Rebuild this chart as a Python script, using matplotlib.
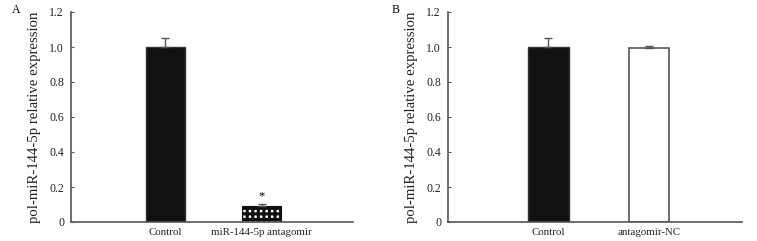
import numpy as np
import matplotlib.pyplot as plt

plt.rcParams['font.family'] = ['Liberation Serif', 'DejaVu Serif']
plt.rcParams['hatch.linewidth'] = 2.2

# Panel A
grupos_a = ['Control', 'miR-144-5p antagomir']
valores_a = [1.0, 0.09]
errores_a = [0.05, 0.015]

# Panel B
grupos_b = ['Control', 'antagomir-NC']
valores_b = [1.0, 0.995]
errores_b = [0.05, 0.01]

ylabel = 'pol-miR-144-5p relative expression'
yticks = [0, 0.2, 0.4, 0.6, 0.8, 1.0, 1.2]
yticklabels = ['0', '0.2', '0.4', '0.6', '0.8', '1.0', '1.2']

fig = plt.figure(figsize=(7.57, 2.41), dpi=100)
fig.patch.set_facecolor('white')
ax_a = fig.add_axes([71/757, 1 - 222/241, 282/757, 210/241])
ax_b = fig.add_axes([448/757, 1 - 222/241, 294/757, 210/241])

spine_col = '#555555'


def estilo(ax, xlim):
    ax.set_ylim(0, 1.2)
    ax.set_xlim(*xlim)
    ax.set_yticks(yticks)
    ax.set_yticklabels(yticklabels, fontsize=8.5, color='#222222')
    ax.set_ylabel(ylabel, fontsize=10.6, labelpad=6, color='#222222')
    for s in ['top', 'right']:
        ax.spines[s].set_visible(False)
    for s in ['left', 'bottom']:
        ax.spines[s].set_color(spine_col)
        ax.spines[s].set_linewidth(1.2)
    ax.tick_params(axis='y', direction='in', length=2, color=spine_col, pad=5)
    ax.tick_params(axis='x', length=0, labelsize=7.8, pad=4, labelcolor='#222222')


x = np.array([1, 2])

# --- A
ax_a.bar(x[0], valores_a[0], 0.4, color='#111111', edgecolor='#333333', linewidth=1)
ax_a.bar(x[1], valores_a[1], 0.4, color='white', edgecolor='#111111', hatch='+++', linewidth=0.8)
ax_a.errorbar(x, valores_a, yerr=[[0, 0], errores_a], fmt='none', ecolor='#555555',
              elinewidth=1, capsize=3, capthick=1)
ax_a.text(x[1], valores_a[1] + errores_a[1] + 0.005, '*', ha='center', va='bottom', fontsize=9)
ax_a.set_xticks(x)
ax_a.set_xticklabels(grupos_a)
estilo(ax_a, (0.02, 2.95))
fig.text(12/757, 1 - 10/241, 'A', fontsize=8.5, va='center', ha='left')

# --- B
ax_b.bar(x[0], valores_b[0], 0.4, color='#111111', edgecolor='#333333', linewidth=1)
ax_b.bar(x[1], valores_b[1], 0.4, color='white', edgecolor='#555555', linewidth=1.2)
ax_b.errorbar(x, valores_b, yerr=[[0, 0], errores_b], fmt='none', ecolor='#555555',
              elinewidth=1, capsize=3, capthick=1)
ax_b.set_xticks(x)
ax_b.set_xticklabels(grupos_b)
estilo(ax_b, (0.005, 2.92))
fig.text(392/757, 1 - 10/241, 'B', fontsize=8.5, va='center', ha='left')

plt.savefig('out.png', dpi=100, facecolor='white')
